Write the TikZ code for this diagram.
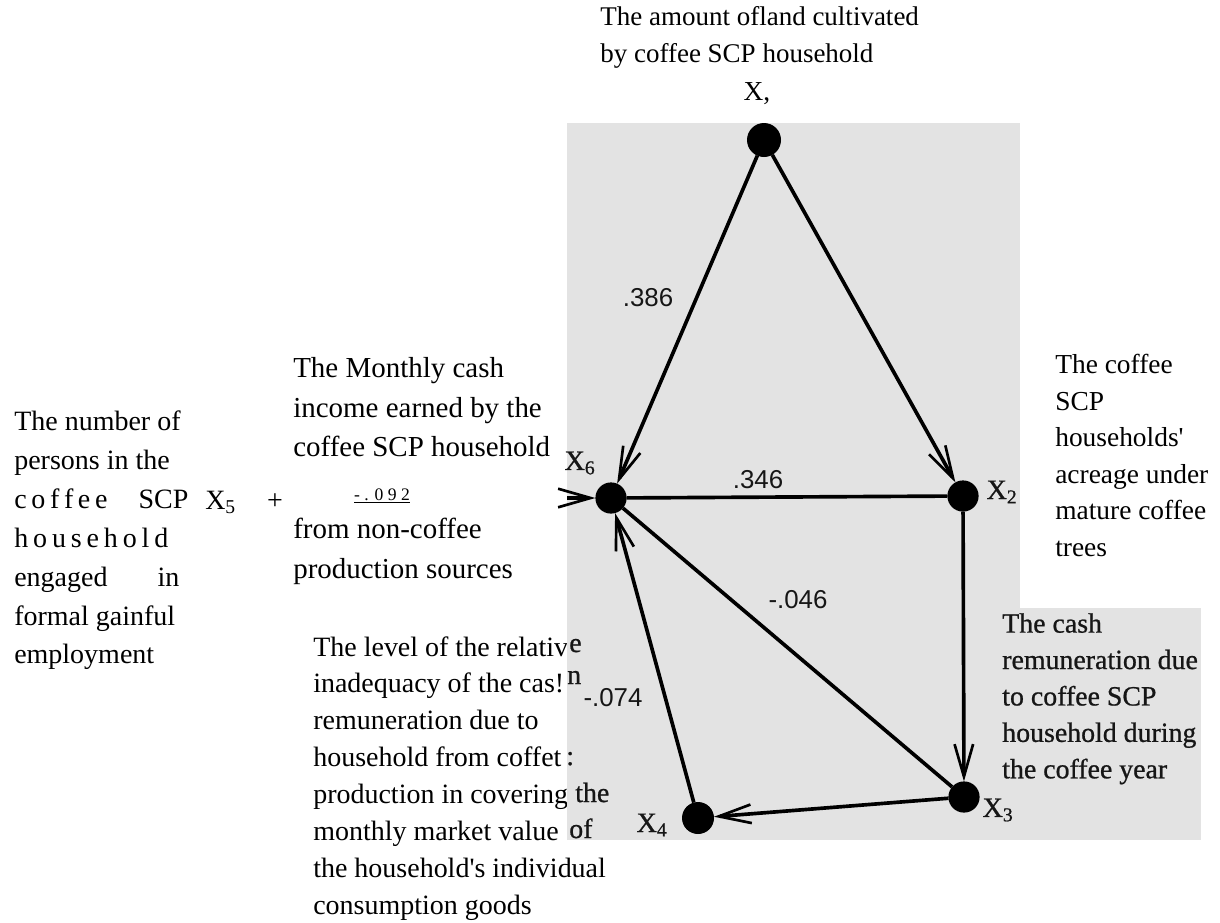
\documentclass[tikz,border=0pt]{standalone}
\usepackage{fontspec}
\setmainfont{Liberation Serif}
\newfontfamily\scanfont[FakeBold=0.8]{Liberation Serif}
\newfontfamily\numfont{Liberation Sans}
\usepackage{xcolor}
\definecolor{scangray}{HTML}{E3E3E3}
\definecolor{scanink}{HTML}{161616}
\usetikzlibrary{arrows.meta}

\begin{document}
\begin{tikzpicture}[x=0.025cm, y=-0.025cm,
	typed/.style={font=\fontsize{19.5}{26}\selectfont, inner sep=0pt, align=left, anchor=north west},
	scantext/.style={font=\scanfont\fontsize{19.8}{25.9}\selectfont, text=scanink, inner sep=0pt, align=left, anchor=north west},
	var/.style={circle, fill=black, inner sep=0pt, outer sep=0pt, minimum size=0.78cm},
	link/.style={line width=2.6pt},
	head/.style={-{Straight Barb[angle=32:24pt, line width=1.9pt]}},
	xlab/.style={font=\scanfont\fontsize{20}{24}\selectfont, text=scanink, inner sep=0pt},
	wlab/.style={font=\numfont\fontsize{18.4}{22}\selectfont, text=scanink, inner sep=0pt}]

		% page, with the reference's margins
		\fill[white] (0,0) rectangle (1220,922);
		\useasboundingbox (0,0) rectangle (1220,922);

		% ================= typed captions =================
		\node[typed, font=\fontsize{19.2}{26.2}\selectfont] (land) at (600,6) {The amount ofland cultivated\\by coffee SCP household};
		\node[typed, anchor=base] (x1lab) at (757,100) {X,};

		\node[typed, font=\fontsize{19.9}{27.6}\selectfont] (persons) at (14,411) {The number of\\persons in the\\\makebox[4.35cm][s]{c\,o\,f\,f\,e\,e\hfill SCP}\\\makebox[3.85cm][s]{h o u s e h o l d}\\\makebox[4.125cm][s]{engaged in}\\formal gainful\\employment};
		\node[typed, font=\fontsize{19.9}{24}\selectfont, anchor=base west] (x5lab) at (205,509) {X\textsubscript{5}};
		\node[typed, font=\fontsize{19.9}{24}\selectfont, anchor=base] (plus) at (275,509) {+};

		\node[typed, font=\fontsize{20.6}{28.3}\selectfont] (income) at (293,357) {The Monthly cash\\income earned by the\\coffee SCP household\\[29.8pt]from non-coffee\\production sources};
		\node[typed, anchor=base] (w56) at (382,500) {\fontsize{12.5}{14}\selectfont\underline{- . 0 9 2}};

		\node[typed] (acreage) at (1055,354) {The coffee\\SCP\\households\textquotesingle\\acreage under\\mature coffee\\trees};

		% cut off by the scan on its right
		\node[typed, font=\fontsize{19.9}{26.3}\selectfont] (inadequacy) at (313,636) {The level of the relativ\\inadequacy of the cas!\\remuneration due to\\household from coffet\\production in covering\\monthly market value\\the household\textquotesingle s individual\\consumption goods};

		% ================= scanned graph =================
		\fill[scangray] (567,123) rectangle (1020,840);
		\fill[scangray] (966,608) rectangle (1201,840);

		% variables
		\node[var, minimum size=0.85cm] (x1) at (764,140) {};
		\node[var] (x6) at (611,498) {};
		\node[var] (x2) at (963,496) {};
		\node[var] (x3) at (964,797) {};
		\node[var, minimum size=0.8cm] (x4) at (698,818) {};
		\coordinate (x5end) at (567,498); % X5 lies outside the scan

		% paths
		\draw[link, head] (x1) -- (x6);
		\draw[link, head] (x1) -- (x2);
		\draw[link] (x6) -- (x2);
		\draw[link] (x6) -- (x3);
		\draw[link, head] (x4) -- (x6);
		\draw[link, head] (x2) -- (x3);
		\draw[link, head] (x3) -- (x4);
		\draw[link, head] (x5end) -- (x6);

		% variable labels
		\node[xlab] (x6lab) at (580,463) {X\textsubscript{6}};
		\node[xlab] (x2lab) at (1002,492) {X\textsubscript{2}};
		\node[xlab] (x3lab) at (998,810) {X\textsubscript{3}};
		\node[xlab] (x4lab) at (652,825) {X\textsubscript{4}};

		% path coefficients
		\node[wlab] (w16) at (648,298) {.386};
		\node[wlab] (w62) at (758,480) {.346};
		\node[wlab] (w63) at (798,600) {-.046};
		\node[wlab] (w64) at (613,698) {-.074};

		% scanned text
		\node[scantext] (cash) at (1002,613) {The cash\\remuneration due\\to coffee SCP\\household during\\the coffee year};
		\node[scantext, anchor=base west] (frag1) at (569,652) {e};
		\node[scantext, anchor=base west] (frag2) at (567,684) {n};
		\node[scantext, anchor=base west] (frag3) at (566,765) {:};
		\node[scantext, anchor=base west] (frag4) at (575,802) {the};
		\node[scantext, anchor=base west] (frag5) at (569,838) {of};

	\end{tikzpicture}
\end{document}
